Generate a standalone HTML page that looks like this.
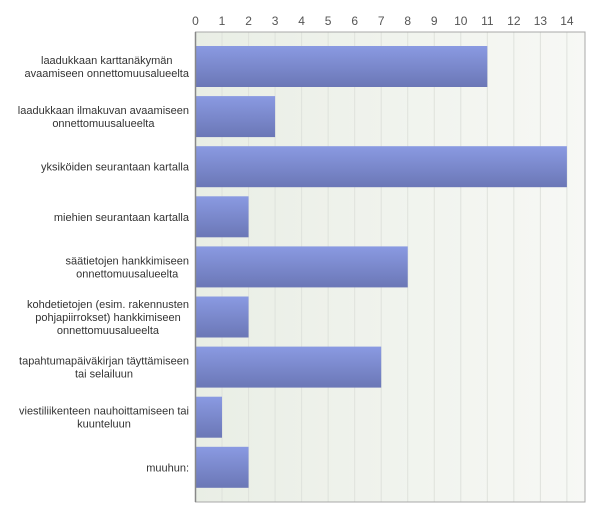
<!DOCTYPE html>
<html><head><meta charset="utf-8">
<style>
html,body{margin:0;padding:0;background:#fff;}
svg{display:block;font-family:"Liberation Sans",Arial,sans-serif;}
</style></head>
<body>
<svg id="chart" width="600" height="517" viewBox="0 0 600 517" xmlns="http://www.w3.org/2000/svg">
<defs>
<linearGradient id="bg" x1="0" y1="0" x2="1" y2="0">
<stop offset="0" stop-color="#e9eee5"/><stop offset="1" stop-color="#f7f8f5"/>
</linearGradient>
<linearGradient id="barg" x1="0" y1="0" x2="0" y2="1">
<stop offset="0" stop-color="#8a9ae2"/><stop offset="1" stop-color="#6b77b6"/>
</linearGradient>
</defs>
<g id="plot"></g>
</svg>
<script>
const categories = [
 ["laadukkaan karttanäkymän","avaamiseen onnettomuusalueelta"],
 ["laadukkaan ilmakuvan avaamiseen","onnettomuusalueelta"],
 ["yksiköiden seurantaan kartalla"],
 ["miehien seurantaan kartalla"],
 ["säätietojen hankkimiseen","onnettomuusalueelta"],
 ["kohdetietojen (esim. rakennusten","pohjapiirrokset) hankkimiseen","onnettomuusalueelta"],
 ["tapahtumapäiväkirjan täyttämiseen","tai selailuun"],
 ["viestiliikenteen nauhoittamiseen tai","kuunteluun"],
 ["muuhun:"]
];
const values = [11,3,14,2,8,2,7,1,2];
const tickLabels = [0,1,2,3,4,5,6,7,8,9,10,11,12,13,14];

const NS="http://www.w3.org/2000/svg";
const g=document.getElementById('plot');
const L=195.5,R=585,T=32,B=502,unit=(566.7-195.3)/14;
const x=v=>L+v*unit;
const band=50.1, barTop0=46, barH=41;
const y=i=>barTop0+i*band;
function mk(tag,a,p){const e=document.createElementNS(NS,tag);for(const k in a)e.setAttribute(k,a[k]);(p||g).appendChild(e);return e;}

const bg=mk('rect',{x:L,y:T,width:R-L,height:B-T,fill:'url(#bg)'});



tickLabels.forEach(t=>{
 const gl=mk('line',{x1:x(t),x2:x(t),y1:T,y2:B,stroke:'#dfe2dc','stroke-width':1});
 
 
 const tl=mk('text',{x:x(t),y:T-7,'text-anchor':'middle','font-size':12,fill:'#555'});
 tl.textContent=t;
 
 
});

values.forEach((v,i)=>{
 const b=mk('rect',{x:L,y:y(i),width:x(v)-L,height:barH,fill:'url(#barg)'});
 
 
 const lines=categories[i];
 const cy=y(i)+barH/2;
 const lh=13;
 const grp=mk('g',{});
 
 
 const ts=lines.map((ln,k)=>{
  const t=mk('text',{y:cy-(lines.length-1)*lh/2+k*lh+4,'font-size':11,fill:'#333','text-anchor':'middle'},grp);
  t.textContent=ln;return t;});
 let w=0;ts.forEach(t=>{w=Math.max(w,t.getComputedTextLength());});
 ts.forEach(t=>t.setAttribute('x',189-w/2));
});

const frame=mk('path',{d:`M${L} ${T}H${R}V${B}H${L}Z`,fill:'none',stroke:'#a8a8a8','stroke-width':1});


const ax=mk('line',{x1:L,x2:L,y1:T,y2:B,stroke:'#888','stroke-width':1.5});


</script>
</body></html>
